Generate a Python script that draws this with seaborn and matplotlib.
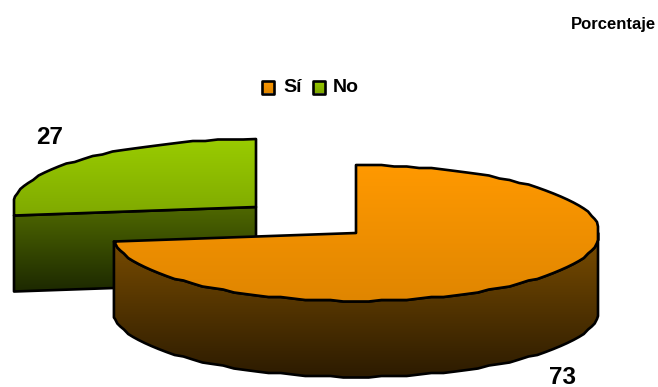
import numpy as np
import matplotlib
matplotlib.use("Agg")
import matplotlib.pyplot as plt
from matplotlib.colors import LinearSegmentedColormap
from matplotlib.patches import Polygon
import seaborn as sns

categories = ["Sí", "No"]
values = [73, 27]
title = "Porcentaje"

sns.set_style("white")
plt.rcParams['font.family'] = ['Liberation Sans', 'DejaVu Sans']

fig = plt.figure(figsize=(6.58, 3.87), dpi=100)
ax = fig.add_axes([0, 0, 1, 1])
ax.set_xlim(0, 658)
ax.set_ylim(387, 0)
ax.axis("off")

RX, RY, DEPTH, LW = 244, 68, 76, 1.9
ORANGE_C, GREEN_C = (356, 233), (256, 207)
XMIN, XMAX = 14, 598


def arc(c, t0, t1, dy=0):
    # sampled on a shared angle grid, so arcs over the same rim coincide
    grid = np.arange(np.ceil(t0 / 3) * 3, t1, 3.0)
    t = np.radians(np.concatenate([[t0], grid[grid > t0], [t1]]))
    x = np.clip(c[0] + RX * np.sin(t), XMIN, XMAX)
    y = c[1] - RY * np.cos(t)
    # the reference outline is slightly stepped, from being downsampled
    y[1:-1] = np.round(y[1:-1] / 1.5) * 1.5
    return np.column_stack([x, y + dy])


def shape(pts, top, bottom, z):
    pts = np.asarray(pts, dtype=float)
    cmap = LinearSegmentedColormap.from_list("g", [top, bottom])
    ys = pts[:, 1]
    im = ax.imshow(np.linspace(0, 1, 256).reshape(-1, 1), cmap=cmap, aspect="auto",
                   extent=(pts[:, 0].min(), pts[:, 0].max(), ys.max(), ys.min()),
                   zorder=z, interpolation="bilinear")
    ax.add_patch(Polygon(pts, closed=True, fc="none", ec="black", lw=LW, zorder=z + 0.1,
                         joinstyle="round"))
    im.set_clip_path(Polygon(pts, closed=True, transform=ax.transData))


split = 360 * values[0] / sum(values)

# green slice (second value)
g_arc = arc(GREEN_C, split, 360)
g_edge = g_arc[0]
face = [g_edge, GREEN_C, (GREEN_C[0], GREEN_C[1] + DEPTH), (g_edge[0], g_edge[1] + DEPTH)]
shape(face, "#4F6800", "#1C2800", 1)
shape(np.vstack([g_arc, [GREEN_C]]), "#99CC00", "#7FA900", 2)

# orange slice (first value)
wall_top = arc(ORANGE_C, 90, split)
wall_bot = arc(ORANGE_C, 90, split, DEPTH)
shape(np.vstack([wall_top, wall_bot[::-1]]), "#7C4E00", "#2C1B00", 3)
shape(np.vstack([arc(ORANGE_C, 0, split), [ORANGE_C]]), "#FF9900", "#E08600", 4)

# legend
for x, top, bottom, name, tx in [(262, "#FF9900", "#E08600", categories[0], 283),
                                 (313, "#99CC00", "#7FA900", categories[1], 333)]:
    shape([(x, 81), (x + 12, 81), (x + 12, 93.5), (x, 93.5)], top, bottom, 5)
    ax.text(tx, 88, name, fontsize=14, fontweight="bold", color="black",
            ha="left", va="center", zorder=6)

# labels
ax.text(656, 25, title, fontsize=12, fontweight="bold", color="black", ha="right", va="center")
ax.text(50, 137, str(values[1]), fontsize=17.5, fontweight="bold", color="black", ha="center", va="center")
ax.text(562, 377, str(values[0]), fontsize=17.5, fontweight="bold", color="black", ha="center", va="center")

ax.set_xlim(0, 658)
ax.set_ylim(387, 0)
fig.savefig("out.png", dpi=100, facecolor="white")
